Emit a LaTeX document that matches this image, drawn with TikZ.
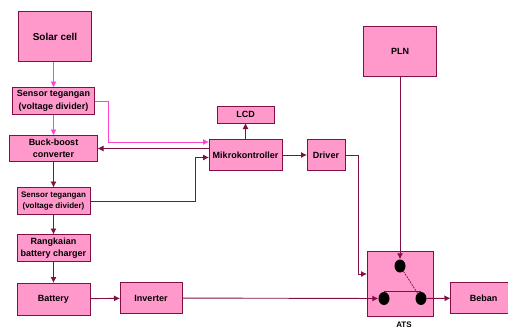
\documentclass[tikz,border=0pt]{standalone}
\usepackage{fontspec}
\setmainfont{Liberation Sans}
\usepackage{tikz}
\usetikzlibrary{calc,arrows.meta,positioning,shapes.geometric}
\definecolor{boxpink}{HTML}{FF99CC}
\definecolor{linemaroon}{HTML}{7F0F45}
\definecolor{linepink}{HTML}{FF44CC}
\tikzset{
	blok/.style={
		draw=linemaroon, rectangle, fill=boxpink, line width=0.9pt,
		inner sep=0pt, outer sep=0pt, text=black, align=center,
		font=\bfseries\fontsize{9}{12.5}\selectfont
	},
	besar/.style={
		blok, font=\bfseries\fontsize{10}{12.5}\selectfont
	},
	kecil/.style={
		blok, font=\bfseries\fontsize{8}{11}\selectfont
	},
	titik/.style={
		ellipse, fill=black, inner sep=0pt, minimum width=11pt, minimum height=13pt
	},
	panah/.style={-{Latex[length=6pt,width=6pt]}, line width=0.9pt, draw=linemaroon},
	panah_pink/.style={-{Latex[length=6pt,width=6pt]}, line width=0.9pt, draw=linepink},
	garis/.style={line width=0.9pt, draw=linemaroon}
}
\begin{document}
\begin{tikzpicture}[x=1pt,y=1pt]
	\useasboundingbox (0,0) rectangle (508,-329);
	\node[besar,minimum width=73pt,minimum height=50pt] (solar) at (55,-36.5) {Solar cell};
	\node[blok,minimum width=82pt,minimum height=27pt] (sensorA) [below=26pt of solar,xshift=-1.5pt] {Sensor tegangan\\(voltage divider)};
	\node[blok,minimum width=88pt,minimum height=26pt] (buck) [below=21pt of sensorA] {Buck-boost\\converter};
	\node[kecil,minimum width=73pt,minimum height=27pt] (sensorB) [below=26pt of buck] {Sensor tegangan\\(voltage divider)};
	\node[blok,minimum width=73pt,minimum height=27pt] (charger) [below=20pt of sensorB] {Rangkaian\\battery charger};
	\node[blok,minimum width=73pt,minimum height=32pt] (battery) [below=21.5pt of charger] {Battery};
	\node[blok,minimum width=62pt,minimum height=31pt] (inverter) at (151,-298) {Inverter};
	\node[blok,minimum width=73pt,minimum height=31pt] (mikro) at (245.5,-155) {Mikrokontroller};
	\node[blok,minimum width=57pt,minimum height=17pt] (lcd) [above=16.5pt of mikro] {LCD};
	\node[blok,minimum width=38pt,minimum height=31pt] (driver) [right=25pt of mikro] {Driver};
	\node[blok,minimum width=73pt,minimum height=50pt] (pln) at (400,-51.5) {PLN};
	\node[blok,minimum width=66pt,minimum height=65pt] (ats) at (400,-283.5) {};
	\node[blok,minimum width=66pt,minimum height=31pt] (beban) at (483.5,-298) {Beban};
	\node[kecil,draw=none,fill=none] (atslabel) [below=6pt of ats,xshift=4pt] {ATS};
	\node[titik] (dotA) at (400,-266) {};
	\node[titik] (dotB) at (384,-298.5) {};
	\node[titik] (dotC) at (421,-298.5) {};
	\coordinate (mikroA) at ($(mikro.north west)+(0,-2.5)$);
	\coordinate (mikroB) at ($(mikro.north west)+(0,-9)$);
	\coordinate (mikroC) at ($(mikro.north west)+(0,-18)$);
	\coordinate (atsA) at ($(ats.north west)+(0,-23)$);
	\draw[panah_pink] (solar.south -| sensorA) -- (sensorA);
	\draw[panah_pink] (sensorA) -- (buck);
	\draw[panah_pink] (sensorA.east) -- ++(14,0) |- (mikroA);
	\draw[panah] (mikroB) -- (mikroB -| buck.east);
	\draw[panah] (buck) -- (sensorB);
	\draw[panah] (sensorB.east) -- ++(105,0) |- (mikroC);
	\draw[panah] (sensorB) -- (charger);
	\draw[panah] (charger) -- (battery);
	\draw[panah] (battery) -- (inverter);
	\draw[panah] (inverter) -- (dotB);
	\draw[panah] (mikro) -- (lcd);
	\draw[panah] (mikro) -- (driver);
	\draw[panah] (driver.east) -- ++(13.5,0) |- (atsA);
	\draw[panah] (pln) -- (dotA);
	\draw[garis,dash pattern=on 2pt off 1pt,line width=0.7pt] (dotA) -- (dotC);
	\draw[garis] (dotB.north) -- (dotC.north);
	\draw[panah] (dotC) -- (beban);
\end{tikzpicture}
\end{document}
